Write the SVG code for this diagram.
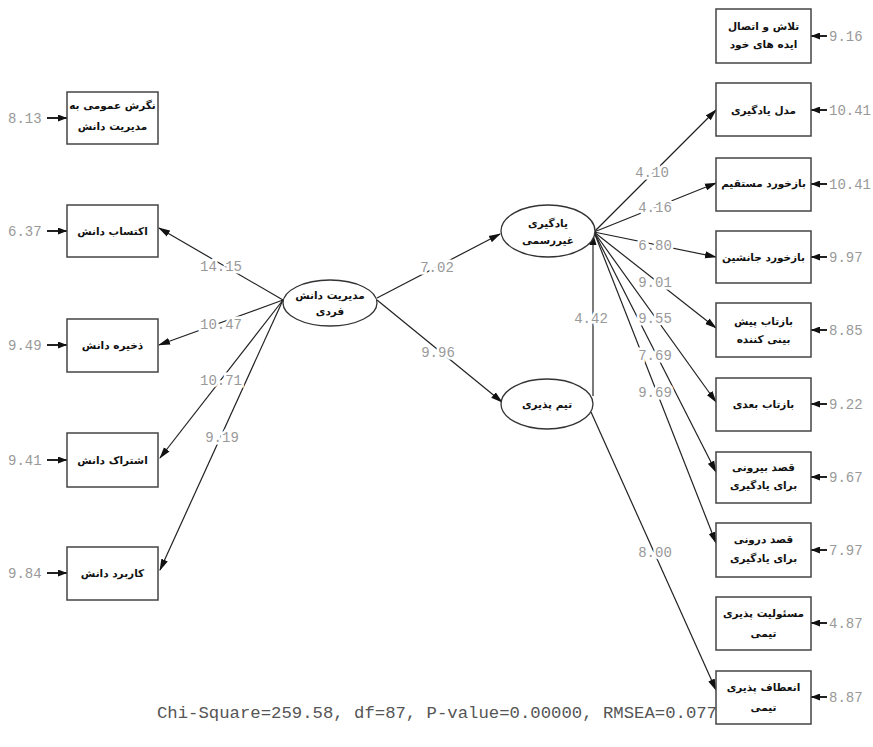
<svg xmlns="http://www.w3.org/2000/svg" width="873" height="747" viewBox="0 0 873 747">
<style>
.box{fill:#fff;stroke:#444;stroke-width:1.5}
.ell{fill:#fff;stroke:#333;stroke-width:1.3}
.fa{font-family:"DejaVu Sans","Noto Sans",sans-serif;font-weight:bold;font-size:10.5px;fill:#111;text-anchor:middle}
.num{font-family:"Liberation Mono","DejaVu Sans Mono",monospace;font-size:14px;fill:#999}
.lbl{font-family:"Liberation Mono","DejaVu Sans Mono",monospace;font-size:14px;fill:#999;text-anchor:middle;stroke:#fff;stroke-width:5;paint-order:stroke}
.ln{stroke:#222;stroke-width:1.2;fill:none;marker-end:url(#ah)}
.err{stroke:#222;stroke-width:2;fill:none;marker-end:url(#eh)}
</style>
<defs>
<marker id="ah" markerUnits="userSpaceOnUse" markerWidth="12" markerHeight="8" refX="11" refY="4" orient="auto"><path d="M0,0.5 L12,4 L0,7.5 z" fill="#111"/></marker>
<marker id="eh" markerUnits="userSpaceOnUse" markerWidth="9" markerHeight="7" refX="9" refY="3.5" orient="auto"><path d="M0,0 L9,3.5 L0,7 z" fill="#111"/></marker>
</defs>
<rect width="873" height="747" fill="#fff"/>

<g id="connectors">
<line class="ln" x1="283" y1="300" x2="159" y2="228"/>
<line class="ln" x1="283" y1="300" x2="159" y2="345"/>
<line class="ln" x1="283" y1="300" x2="160" y2="458"/>
<line class="ln" x1="283" y1="300" x2="160" y2="570"/>
<line class="ln" x1="377" y1="298" x2="500" y2="234"/>
<line class="ln" x1="377" y1="300" x2="502" y2="402"/>
<line class="ln" x1="593" y1="396" x2="593" y2="234"/>
<line class="ln" x1="594" y1="232" x2="716" y2="110"/>
<line class="ln" x1="594" y1="232" x2="716" y2="183"/>
<line class="ln" x1="594" y1="232" x2="716" y2="257"/>
<line class="ln" x1="594" y1="232" x2="716" y2="328"/>
<line class="ln" x1="594" y1="232" x2="716" y2="402"/>
<line class="ln" x1="594" y1="232" x2="716" y2="472"/>
<line class="ln" x1="594" y1="232" x2="716" y2="543"/>
<line class="ln" x1="591" y1="412" x2="716" y2="690"/>
<!-- error arrows -->
<line class="err" x1="47" y1="118" x2="67" y2="118"/>
<line class="err" x1="47" y1="231" x2="67" y2="231"/>
<line class="err" x1="47" y1="345" x2="67" y2="345"/>
<line class="err" x1="47" y1="460" x2="67" y2="460"/>
<line class="err" x1="47" y1="573" x2="67" y2="573"/>
<line class="err" x1="827" y1="36" x2="811" y2="36"/>
<line class="err" x1="827" y1="110" x2="811" y2="110"/>
<line class="err" x1="827" y1="184" x2="811" y2="184"/>
<line class="err" x1="827" y1="257" x2="811" y2="257"/>
<line class="err" x1="827" y1="330" x2="811" y2="330"/>
<line class="err" x1="827" y1="404" x2="811" y2="404"/>
<line class="err" x1="827" y1="477" x2="811" y2="477"/>
<line class="err" x1="827" y1="550" x2="811" y2="550"/>
<line class="err" x1="827" y1="623" x2="811" y2="623"/>
<line class="err" x1="827" y1="697" x2="811" y2="697"/>
<!-- path labels -->
<text class="lbl" x="221" y="271">14.15</text>
<text class="lbl" x="221" y="329">10.47</text>
<text class="lbl" x="221" y="385">10.71</text>
<text class="lbl" x="222" y="442">9.19</text>
<text class="lbl" x="437" y="272">7.02</text>
<text class="lbl" x="438" y="357">9.96</text>
<text class="lbl" x="591" y="323">4.42</text>
<text class="lbl" x="652" y="177">4.10</text>
<text class="lbl" x="655" y="212">4.16</text>
<text class="lbl" x="655" y="250">6.80</text>
<text class="lbl" x="655" y="287">9.01</text>
<text class="lbl" x="655" y="323">9.55</text>
<text class="lbl" x="655" y="360">7.69</text>
<text class="lbl" x="655" y="397">9.69</text>
<text class="lbl" x="655" y="557">8.00</text>
</g>

<g id="err-values">
<text class="num" x="8" y="123">8.13</text>
<text class="num" x="8" y="236">6.37</text>
<text class="num" x="8" y="350">9.49</text>
<text class="num" x="8" y="465">9.41</text>
<text class="num" x="8" y="578">9.84</text>
<text class="num" x="829" y="41">9.16</text>
<text class="num" x="829" y="115">10.41</text>
<text class="num" x="829" y="189">10.41</text>
<text class="num" x="829" y="262">9.97</text>
<text class="num" x="829" y="335">8.85</text>
<text class="num" x="829" y="409">9.22</text>
<text class="num" x="829" y="482">9.67</text>
<text class="num" x="829" y="555">7.97</text>
<text class="num" x="829" y="628">4.87</text>
<text class="num" x="829" y="702">8.87</text>
</g>

<g id="L1"><rect class="box" x="67" y="92" width="91" height="52"/><text class="fa" x="112.5" y="109">نگرش عمومی به</text><text class="fa" x="112.5" y="130">مدیریت دانش</text></g>
<g id="L2"><rect class="box" x="67" y="205" width="91" height="52"/><text class="fa" x="112.5" y="235">اکتساب دانش</text></g>
<g id="L3"><rect class="box" x="67" y="319" width="91" height="53"/><text class="fa" x="112.5" y="349">ذخیره دانش</text></g>
<g id="L4"><rect class="box" x="67" y="433" width="91" height="54"/><text class="fa" x="112.5" y="464">اشتراک دانش</text></g>
<g id="L5"><rect class="box" x="67" y="547" width="91" height="53"/><text class="fa" x="112.5" y="577">کاربرد دانش</text></g>

<g id="E1"><ellipse class="ell" cx="330" cy="303" rx="47" ry="23"/><text class="fa" x="330" y="299">مدیریت دانش</text><text class="fa" x="330" y="315">فردی</text></g>
<g id="E2"><ellipse class="ell" cx="548" cy="231" rx="47" ry="26"/><text class="fa" x="548" y="227">یادگیری</text><text class="fa" x="548" y="244">غیررسمی</text></g>
<g id="E3"><ellipse class="ell" cx="547" cy="404" rx="46" ry="25"/><text class="fa" x="547" y="408">تیم پذیری</text></g>

<g id="R1"><rect class="box" x="716" y="9" width="95" height="54"/><text class="fa" x="763.5" y="30">تلاش و اتصال</text><text class="fa" x="763.5" y="48">ایده های خود</text></g>
<g id="R2"><rect class="box" x="716" y="83" width="95" height="53"/><text class="fa" x="763.5" y="114">مدل یادگیری</text></g>
<g id="R3"><rect class="box" x="716" y="158" width="95" height="53"/><text class="fa" x="763.5" y="187">بازخورد مستقیم</text></g>
<g id="R4"><rect class="box" x="716" y="231" width="95" height="52"/><text class="fa" x="763.5" y="261">بازخورد جانشین</text></g>
<g id="R5"><rect class="box" x="716" y="303" width="95" height="54"/><text class="fa" x="763.5" y="325">بازتاب پیش</text><text class="fa" x="763.5" y="343">بینی کننده</text></g>
<g id="R6"><rect class="box" x="716" y="378" width="95" height="53"/><text class="fa" x="763.5" y="408">بازتاب بعدی</text></g>
<g id="R7"><rect class="box" x="716" y="452" width="95" height="51"/><text class="fa" x="763.5" y="471">قصد بیرونی</text><text class="fa" x="763.5" y="489">برای یادگیری</text></g>
<g id="R8"><rect class="box" x="716" y="523" width="95" height="54"/><text class="fa" x="763.5" y="543">قصد درونی</text><text class="fa" x="763.5" y="562">برای یادگیری</text></g>
<g id="R9"><rect class="box" x="716" y="597" width="95" height="53"/><text class="fa" x="763.5" y="617">مسئولیت پذیری</text><text class="fa" x="763.5" y="637">تیمی</text></g>
<g id="R10"><rect class="box" x="716" y="671" width="95" height="53"/><text class="fa" x="763.5" y="691">انعطاف پذیری</text><text class="fa" x="763.5" y="711">تیمی</text></g>

<text x="437" y="718" text-anchor="middle" font-family="Liberation Mono, monospace" font-size="17.3" fill="#555">Chi-Square=259.58, df=87, P-value=0.00000, RMSEA=0.077</text>
</svg>
